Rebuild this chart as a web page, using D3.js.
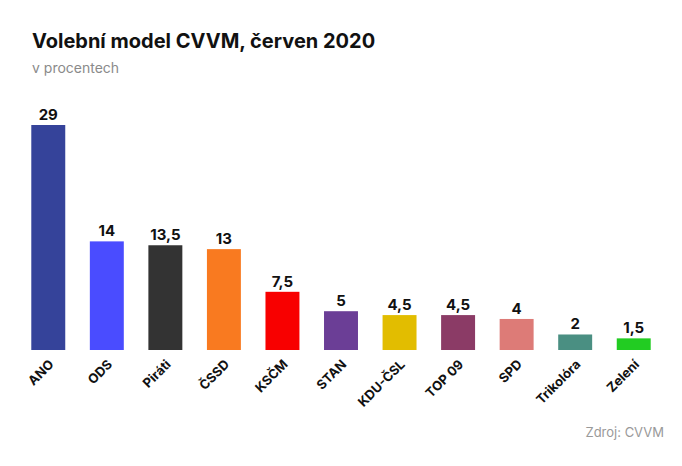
<!DOCTYPE html>
<html><head><meta charset="utf-8">
<script src="https://cdn.jsdelivr.net/npm/d3@7"></script>
<style>
body{margin:0;background:#fff;}
text{font-family:Inter,"Open Sans",sans-serif;}
</style></head>
<body><svg id="c" width="682" height="466"></svg>
<script>
const categories = ["ANO","ODS","Piráti","ČSSD","KSČM","STAN","KDU-ČSL","TOP 09","SPD","Trikolóra","Zelení"];
const values = [29,14,13.5,13,7.5,5,4.5,4.5,4,2,1.5];
const colors = ["#35439a","#4a4cff","#333333","#f97a20","#f80000","#6b3e96","#e2bd00","#8b3b66","#dd7b77","#4a8f82","#22cc22"];
const title = "Volební model CVVM, červen 2020";
const subtitle = "v procentech";
const source = "Zdroj: CVVM";

const svg = d3.select("#c");
const baseY = 350, topY = 125;
const x = d3.scaleBand().domain(categories).range([19, 663]).paddingInner(0.42).paddingOuter(0.21);
const y = d3.scaleLinear().domain([0, 29]).range([baseY, topY]);
const fmt = v => String(v).replace(".", ",");

svg.append("text").attr("x", 32).attr("y", 48).attr("font-size", 20).attr("font-weight", 700).attr("fill", "#111").text(title);
svg.append("text").attr("x", 32).attr("y", 73).attr("font-size", 14).attr("fill", "#8a8a8a").text(subtitle);

svg.selectAll("rect.bar").data(categories).join("rect").attr("class", "bar")
  .attr("x", d => x(d)).attr("width", x.bandwidth())
  .attr("y", (d, i) => y(values[i])).attr("height", (d, i) => baseY - y(values[i]))
  .attr("fill", (d, i) => colors[i]);

svg.selectAll("text.val").data(categories).join("text").attr("class", "val")
  .attr("x", d => x(d) + x.bandwidth() / 2).attr("y", (d, i) => y(values[i]) - 5)
  .attr("text-anchor", "middle").attr("font-size", 15).attr("font-weight", 700).attr("fill", "#111")
  .text((d, i) => fmt(values[i]));

svg.selectAll("text.cat").data(categories).join("text").attr("class", "cat")
  .attr("transform", d => `translate(${x(d) + x.bandwidth() / 2 + 3},${baseY + 12}) rotate(-45)`)
  .attr("text-anchor", "end").attr("dy", "0.35em")
  .attr("font-size", 13).attr("font-weight", 700).attr("fill", "#111").text(d => d);

svg.append("text").attr("x", 664).attr("y", 437).attr("text-anchor", "end").attr("font-size", 13).attr("fill", "#999").text(source);
</script></body></html>
